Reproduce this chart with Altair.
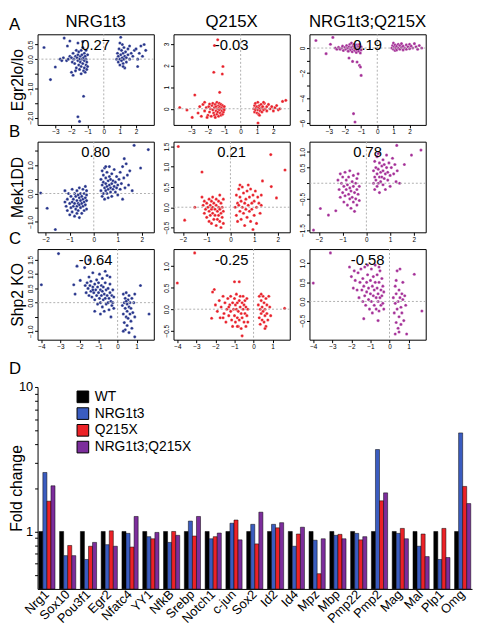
import json
import altair as alt
import pandas as pd

FONT = "Liberation Sans"

# ---------------- scatter data (x = genotype log-ratio, y = mutant log-ratio) ----------------
A1 = [(-3.7,0.4),(-3.0,-0.27),(-3.3,-0.7),(-2.45,0.72),(-2.1,0.62),(-1.25,-1.27),(-1.6,-1.97),(-1.5,-2.13),
      (-2.7,0.0),(-2.6,-0.05),(-2.5,0.05),(-2.3,-0.05),(-2.2,0.0),(-2.1,0.1),(-2.0,0.05),(-1.95,-0.1),(-1.9,0.2),
      (-1.85,0.0),(-1.8,-0.15),(-1.75,0.1),(-1.7,-0.3),(-1.7,0.3),(-1.65,0.05),(-1.6,-0.05),(-1.6,0.15),(-1.55,-0.2),
      (-1.55,0.25),(-1.5,0.0),(-1.5,-0.35),(-1.45,0.1),(-1.45,-0.1),(-1.4,0.3),(-1.4,-0.25),(-1.35,0.0),(-1.35,0.15),
      (-1.3,-0.15),(-1.3,0.4),(-1.25,-0.4),(-1.25,0.05),(-1.2,0.2),(-1.2,-0.05),(-1.2,-0.3),(-1.15,0.1),(-1.15,-0.45),
      (-1.1,0.0),(-1.1,-0.2),(-1.1,0.3),(-1.05,-0.1),(-1.05,-0.35),(-1.0,0.15),(-1.0,-0.25),(-1.9,-0.55),(-2.0,-0.45),
      (-1.6,0.55),(-1.3,0.6),(-2.25,0.45),(-1.75,-0.4),(-1.4,-0.5),
      (0.8,0.0),(0.85,0.2),(0.9,-0.1),(0.9,0.1),(0.95,0.35),(1.0,0.0),(1.0,-0.2),(1.05,0.15),(1.05,0.75),(1.1,-0.05),
      (1.1,0.3),(1.15,0.05),(1.15,0.5),(1.2,-0.15),(1.2,0.2),(1.25,0.0),(1.25,0.4),(1.3,0.1),(1.3,-0.3),(1.35,0.25),
      (1.4,0.05),(1.4,-0.1),(1.5,0.15),(1.5,0.35),(1.6,0.0),(1.6,0.45),(1.7,0.2),(1.8,0.1),(1.9,0.3),(2.0,0.35),
      (2.1,0.0),(2.1,-0.25),(2.2,0.2),(2.3,0.45),(2.4,0.1),(2.5,0.5),(2.6,0.3),(1.0,0.55),(1.2,-0.25)]

A2 = [(-1.4,3.2),(-1.6,2.93),(-1.64,1.69),(-1.08,1.96),(-1.12,1.61),(-1.28,0.76),(-2.8,0.64),(-3.72,0.06),
      (-3.28,-0.06),(-2.96,-0.4),(1.06,-0.66),(2.56,0.34),(2.76,0.39),
      (-2.6,-0.2),(-2.5,0.1),(-2.4,-0.35),(-2.3,0.2),(-2.2,-0.1),(-2.1,0.05),(-2.0,-0.3),(-1.95,0.1),(-1.9,-0.15),
      (-1.85,0.0),(-1.8,-0.35),(-1.75,0.15),(-1.7,-0.05),(-1.7,0.25),(-1.65,-0.2),(-1.6,0.05),(-1.6,-0.3),(-1.55,0.2),
      (-1.5,-0.1),(-1.5,0.1),(-1.45,-0.25),(-1.45,0.3),(-1.4,0.0),(-1.4,-0.15),(-1.35,0.15),(-1.35,-0.35),(-1.3,0.05),
      (-1.3,-0.05),(-1.3,0.25),(-1.25,-0.2),(-1.25,0.1),(-1.2,0.0),(-1.2,-0.3),(-1.2,0.2),(-1.15,-0.1),(-1.15,0.05),
      (-1.1,0.15),(-1.1,-0.25),(-1.05,0.0),(-1.05,-0.15),(-1.0,0.1),(-1.0,-0.05),(-2.2,0.3),(-1.9,0.22),(-2.05,-0.4),
      (-1.55,-0.4),
      (0.8,0.0),(0.85,0.15),(0.85,-0.15),(0.9,0.25),(0.9,-0.05),(0.95,0.05),(1.0,-0.2),(1.0,0.1),(1.05,0.3),
      (1.05,-0.05),(1.1,0.05),(1.1,-0.25),(1.15,0.15),(1.2,0.0),(1.2,-0.1),(1.25,0.2),(1.3,0.05),(1.3,-0.15),
      (1.35,0.1),(1.4,-0.05),(1.45,0.25),(1.5,0.0),(1.6,0.1),(1.6,-0.1),(1.7,0.2),(1.8,0.0),(1.9,0.1),(2.0,-0.1),
      (2.1,0.05),(2.2,0.15),(2.3,-0.05),(2.4,0.0),(1.4,0.3),(1.15,-0.3)]

A3 = [(-3.8,0.6),(-2.9,0.3),(-3.17,-0.45),(-1.75,-0.8),(-1.53,-1.07),(-1.25,-1.12),(-1.1,-1.39),(-1.04,-1.52),
      (-1.0,-2.19),(-1.47,-5.25),(-1.38,-5.92),(-2.75,0.85),
      (-2.6,0.0),(-2.5,-0.1),(-2.4,0.05),(-2.3,-0.1),(-2.2,0.0),(-2.15,0.15),(-2.1,-0.2),(-2.0,0.05),(-1.95,-0.1),
      (-1.9,0.2),(-1.85,0.0),(-1.8,-0.25),(-1.75,0.1),(-1.7,-0.05),(-1.7,0.3),(-1.65,-0.15),(-1.6,0.05),(-1.6,0.4),
      (-1.55,-0.3),(-1.5,0.15),(-1.5,-0.1),(-1.45,0.0),(-1.45,0.3),(-1.4,-0.2),(-1.4,0.1),(-1.35,-0.05),(-1.35,0.2),
      (-1.3,-0.35),(-1.3,0.05),(-1.25,0.25),(-1.25,-0.15),(-1.2,0.0),(-1.2,0.15),(-1.15,-0.25),(-1.15,0.1),
      (-1.1,-0.05),(-1.1,0.3),(-1.05,0.05),(-1.05,-0.4),(-1.0,0.1),(-1.0,-0.15),
      (0.9,0.0),(0.95,0.2),(1.0,-0.1),(1.0,0.4),(1.05,0.1),(1.1,-0.2),(1.1,0.25),(1.15,0.0),(1.2,0.15),(1.2,-0.15),
      (1.3,0.3),(1.3,0.0),(1.4,-0.1),(1.4,0.2),(1.5,0.05),(1.5,0.35),(1.6,-0.15),(1.6,0.15),(1.7,0.0),(1.8,0.25),
      (1.8,-0.1),(1.9,0.1),(2.0,0.3),(2.0,-0.05),(2.1,0.15),(2.2,0.0),(2.3,0.35),(2.4,0.1),(2.5,-0.1),(2.6,0.2),
      (2.75,0.0)]

B1 = [(-2.21,0.02),(-1.94,-0.52),(-1.6,-1.27),(1.68,1.7),(2.27,1.55),(1.95,0.9),(1.6,0.1),(1.27,1.23),
      (-1.2,-0.3),(-1.2,0.1),(-1.15,-0.45),(-1.1,-0.2),(-1.1,-0.6),(-1.05,0.0),(-1.0,-0.35),(-1.0,-0.75),
      (-0.95,-0.1),(-0.95,-0.5),(-0.9,0.15),(-0.9,-0.3),(-0.9,-0.65),(-0.85,-0.2),(-0.85,-0.45),(-0.8,0.0),
      (-0.8,-0.35),(-0.8,-0.8),(-0.75,-0.1),(-0.75,-0.55),(-0.7,0.1),(-0.7,-0.25),(-0.7,-0.45),(-0.7,-0.7),
      (-0.65,-0.05),(-0.65,-0.35),(-0.65,-0.6),(-0.6,0.2),(-0.6,-0.15),(-0.6,-0.4),(-0.6,-0.85),(-0.55,0.0),
      (-0.55,-0.25),(-0.55,-0.5),(-0.5,-0.1),(-0.5,-0.35),(-0.5,-0.7),(-0.45,0.15),(-0.45,-0.2),(-0.45,-0.45),
      (-0.4,0.0),(-0.4,-0.3),(-0.4,-0.6),(-0.35,0.25),(-0.35,-0.15),(-0.35,-0.4),(-0.3,-0.05),(-0.3,-0.25),
      (-0.3,-0.55),(-0.3,0.1),
      (0.3,0.1),(0.3,0.5),(0.35,-0.1),(0.35,0.3),(0.35,0.8),(0.4,0.0),(0.4,0.4),(0.4,0.65),(0.45,0.2),(0.45,-0.2),
      (0.45,0.9),(0.5,0.1),(0.5,0.35),(0.5,0.55),(0.55,0.0),(0.55,0.25),(0.55,0.75),(0.6,0.15),(0.6,0.45),
      (0.6,-0.15),(0.65,0.3),(0.65,0.6),(0.65,0.95),(0.7,0.05),(0.7,0.2),(0.7,0.5),(0.75,0.35),(0.75,0.7),
      (0.75,-0.1),(0.8,0.15),(0.8,0.45),(0.85,0.25),(0.85,0.85),(0.9,0.05),(0.9,0.4),(0.95,0.6),(0.95,0.2),
      (1.0,0.3),(1.0,-0.05),(1.05,0.5),(1.1,0.15),(1.1,0.75),(1.15,0.35),(1.2,0.95),(1.25,0.55),(1.3,0.2),
      (1.35,1.05),(1.4,0.65),(1.5,0.8),(1.45,0.3),(1.2,-0.2),(0.5,0.95)]

B2 = [(-2.2,1.5),(-1.93,-0.32),(-1.2,0.87),(-1.5,0.0),(1.7,1.3),(2.3,0.92),(1.94,0.23),(1.72,0.51),(1.35,0.65),
      (-1.2,0.25),(-1.15,0.05),(-1.1,-0.15),(-1.1,0.15),(-1.05,-0.05),(-1.0,0.1),(-1.0,-0.25),(-0.95,0.0),
      (-0.9,0.2),(-0.9,-0.1),(-0.9,-0.35),(-0.85,0.05),(-0.85,-0.2),(-0.8,0.15),(-0.8,-0.05),(-0.8,-0.4),
      (-0.75,0.0),(-0.75,-0.15),(-0.75,0.25),(-0.7,-0.3),(-0.7,0.1),(-0.65,-0.05),(-0.65,-0.2),(-0.6,0.05),
      (-0.6,0.2),(-0.6,-0.45),(-0.55,-0.1),(-0.55,-0.3),(-0.5,0.15),(-0.5,0.0),(-0.5,-0.2),(-0.45,-0.05),
      (-0.45,-0.35),(-0.45,0.3),(-0.4,0.1),(-0.4,-0.15),(-0.4,-0.5),(-0.35,0.0),(-0.35,-0.25),(-0.3,0.2),
      (-0.3,-0.1),(-0.3,-0.4),
      (0.2,0.0),(0.25,0.3),(0.25,-0.2),(0.3,0.1),(0.3,-0.35),(0.35,0.45),(0.35,0.05),(0.4,-0.1),(0.4,0.25),
      (0.45,-0.3),(0.45,0.15),(0.5,0.5),(0.5,0.0),(0.55,-0.15),(0.55,0.35),(0.6,0.1),(0.6,-0.45),(0.65,0.2),
      (0.65,-0.05),(0.7,0.4),(0.7,-0.25),(0.75,0.05),(0.75,0.55),(0.8,-0.1),(0.8,0.25),(0.85,0.45),(0.85,-0.35),
      (0.9,0.1),(0.9,-0.05),(0.95,0.3),(1.0,-0.2),(1.0,0.15),(1.05,0.4),(1.1,0.0),(1.1,-0.4),(1.15,0.25),
      (1.2,0.1),(1.25,-0.15),(1.3,0.3),(1.3,0.05),(0.95,-0.55),(0.4,0.55)]

B3 = [(-2.23,-1.5),(-1.94,-0.81),(-1.6,-1.02),(-1.29,-0.88),(1.28,1.21),(1.9,0.9),(2.3,1.06),(1.6,0.6),(1.4,0.0),
      (-1.2,0.1),(-1.15,-0.2),(-1.1,0.3),(-1.1,-0.45),(-1.05,0.0),(-1.0,-0.3),(-1.0,0.2),(-0.95,-0.6),(-0.95,-0.1),
      (-0.9,0.35),(-0.9,-0.4),(-0.85,-0.2),(-0.85,0.1),(-0.8,-0.7),(-0.8,-0.05),(-0.75,-0.35),(-0.75,0.2),
      (-0.7,-0.5),(-0.7,-0.15),(-0.7,0.4),(-0.65,-0.25),(-0.65,-0.8),(-0.6,0.05),(-0.6,-0.45),(-0.55,-0.1),
      (-0.55,-0.6),(-0.55,0.25),(-0.5,-0.3),(-0.5,-0.9),(-0.45,0.0),(-0.45,-0.5),(-0.4,0.15),(-0.4,-0.2),
      (-0.4,-0.7),(-0.35,-0.35),(-0.35,0.3),(-0.3,-0.1),(-0.3,-0.55),
      (0.3,0.0),(0.3,0.4),(0.35,-0.2),(0.35,0.2),(0.35,0.7),(0.4,0.1),(0.4,0.5),(0.45,-0.1),(0.45,0.3),(0.45,0.85),
      (0.5,0.0),(0.5,0.45),(0.55,0.2),(0.55,0.65),(0.55,-0.3),(0.6,0.35),(0.6,0.05),(0.65,0.55),(0.65,0.2),
      (0.7,0.75),(0.7,-0.05),(0.7,0.4),(0.75,0.15),(0.75,0.6),(0.8,0.3),(0.8,-0.2),(0.85,0.5),(0.85,0.9),
      (0.9,0.1),(0.9,0.35),(0.95,0.65),(1.0,0.25),(1.0,-0.1),(1.05,0.5),(1.1,0.8),(1.15,0.3),(1.2,0.6),
      (1.25,0.05),(1.3,0.4),(0.5,0.95)]

C1 = [(-4.0,0.63),(-3.1,1.72),(-2.3,0.63),(-2.23,0.3),(-2.13,1.28),(-1.73,1.23),(-1.96,0.78),(1.2,0.6),
      (1.65,-0.4),(0.9,-1.2),(-1.5,1.5),(-1.2,-0.3),(-0.9,-0.4),
      (-1.7,0.6),(-1.65,0.35),(-1.6,0.7),(-1.55,0.5),(-1.5,0.25),(-1.5,0.9),(-1.45,0.6),(-1.4,0.4),(-1.4,0.75),
      (-1.35,0.2),(-1.3,0.55),(-1.3,1.05),(-1.25,0.35),(-1.2,0.65),(-1.2,0.1),(-1.15,0.45),(-1.1,0.8),(-1.1,0.25),
      (-1.05,0.55),(-1.05,-0.05),(-1.0,0.35),(-1.0,0.7),(-0.95,0.15),(-0.95,1.0),(-0.9,0.45),(-0.9,0.0),
      (-0.85,0.6),(-0.85,0.25),(-0.8,-0.15),(-0.8,0.4),(-0.8,0.85),(-0.75,0.1),(-0.75,0.55),(-0.7,0.3),
      (-0.7,-0.3),(-0.65,0.7),(-0.65,0.15),(-0.6,0.45),(-0.6,-0.05),(-0.55,0.25),(-0.55,0.95),(-0.5,0.0),
      (-0.5,0.5),(-0.45,0.15),(-0.45,-0.25),(-0.4,0.35),(-0.4,0.65),(-0.35,0.05),(-0.35,-0.5),(-0.3,0.25),
      (-0.3,-0.1),(-0.25,0.45),(-0.25,0.0),(-0.2,-0.2),(-0.2,0.2),(-1.3,0.45),(-0.65,1.1),(-0.4,0.9),
      (0.25,-0.1),(0.3,0.3),(0.3,-0.4),(0.35,0.0),(0.35,-0.7),(0.4,-0.2),(0.4,0.15),(0.4,-0.95),(0.45,-0.5),
      (0.45,0.35),(0.5,-0.05),(0.5,-0.3),(0.5,-0.8),(0.55,0.1),(0.55,-0.55),(0.6,-0.15),(0.6,0.25),(0.6,-1.05),
      (0.65,-0.4),(0.65,0.0),(0.7,-0.65),(0.7,-0.2),(0.75,0.15),(0.75,-0.9),(0.8,-0.35),(0.85,0.0),(0.9,-0.5),
      (0.9,0.3),(0.3,-1.0),(0.45,0.05)]

C2 = [(-3.09,1.31),(-4.0,0.61),(-2.06,0.46),(-1.0,0.64),(-0.75,0.64),(-2.2,-0.21),(1.63,0.02),(-0.6,-0.62),
      (-2.15,0.4),
      (-2.0,0.1),(-1.9,-0.05),(-1.8,0.2),(-1.75,-0.2),(-1.7,0.05),(-1.6,0.3),(-1.55,-0.1),(-1.5,0.15),(-1.45,-0.3),
      (-1.4,0.0),(-1.35,0.25),(-1.3,-0.15),(-1.25,0.1),(-1.2,-0.05),(-1.2,0.3),(-1.15,-0.25),(-1.1,0.15),
      (-1.1,-0.4),(-1.05,0.0),(-1.0,0.25),(-1.0,-0.15),(-0.95,0.1),(-0.95,-0.3),(-0.9,0.0),(-0.9,0.35),
      (-0.85,-0.2),(-0.85,0.15),(-0.8,-0.05),(-0.8,-0.4),(-0.75,0.2),(-0.75,-0.25),(-0.7,0.05),(-0.7,0.3),
      (-0.65,-0.1),(-0.65,-0.45),(-0.6,0.15),(-0.6,-0.2),(-0.55,0.0),(-0.55,0.3),(-0.5,-0.3),(-0.5,0.1),
      (-0.45,-0.1),(-0.45,0.2),(-0.4,-0.4),(-0.4,0.05),(-0.35,-0.15),(-0.35,0.25),(-0.3,0.0),(-0.3,-0.3),
      (-1.6,-0.2),(-1.3,0.05),(-0.85,-0.4),
      (0.25,0.1),(0.3,-0.2),(0.3,0.3),(0.35,0.0),(0.35,-0.35),(0.4,0.2),(0.4,-0.1),(0.45,0.05),(0.45,-0.25),
      (0.5,0.3),(0.5,-0.05),(0.55,0.15),(0.55,-0.3),(0.6,0.0),(0.6,-0.15),(0.65,0.25),(0.65,-0.4),(0.7,0.1),
      (0.7,-0.1),(0.75,-0.25),(0.8,0.3),(0.85,0.05),(0.9,-0.15),(0.6,-0.45),(0.4,0.35)]

C3 = [(-3.1,1.27),(-4.0,0.48),(1.7,-0.25),(1.3,0.71),(-2.1,0.9),(-0.6,-0.5),(-1.35,-0.45),(0.9,-0.85),(0.3,-0.85),
      (-2.0,0.65),(-1.9,0.35),(-1.85,0.8),(-1.8,0.55),(-1.7,0.3),(-1.65,0.75),(-1.6,0.1),(-1.55,0.5),(-1.5,0.85),
      (-1.45,0.3),(-1.4,0.0),(-1.4,0.6),(-1.35,0.4),(-1.3,0.15),(-1.3,0.9),(-1.25,-0.1),(-1.2,0.5),(-1.2,0.25),
      (-1.15,0.7),(-1.1,0.05),(-1.1,0.35),(-1.05,-0.2),(-1.0,0.55),(-1.0,0.2),(-0.95,0.85),(-0.95,0.0),
      (-0.9,0.4),(-0.9,-0.3),(-0.85,0.15),(-0.85,0.65),(-0.8,-0.1),(-0.8,0.3),(-0.75,0.5),(-0.75,0.95),
      (-0.7,0.1),(-0.7,-0.2),(-0.65,0.35),(-0.65,0.7),(-0.6,0.0),(-0.6,0.2),(-0.55,0.5),(-0.55,-0.25),
      (-0.5,0.1),(-0.5,0.8),(-0.45,0.3),(-0.45,-0.1),(-0.4,0.6),(-0.4,0.15),(-0.35,-0.05),(-0.35,0.4),
      (-0.3,0.25),(-0.3,-0.2),(-1.15,0.95),(-0.55,0.9),
      (0.2,0.1),(0.25,-0.3),(0.3,0.4),(0.3,-0.05),(0.35,-0.55),(0.35,0.2),(0.4,-0.2),(0.4,0.8),(0.45,0.0),
      (0.45,-0.7),(0.5,0.3),(0.5,-0.4),(0.55,0.1),(0.55,0.85),(0.6,-0.15),(0.6,-0.6),(0.65,0.2),(0.65,-0.3),
      (0.7,0.05),(0.7,0.5),(0.75,-0.5),(0.8,0.15),(0.85,-0.1),(0.35,0.55),(0.5,-0.8)]

COLUMNS = ["NRG1t3", "Q215X", "NRG1t3;Q215X"]
ROWS = ["Egr2lo/lo", "Mek1DD", "Shp2 KO"]
CORR = [["0.27", "-0.03", "0.19"], ["0.80", "0.21", "0.78"], ["-0.64", "-0.25", "-0.58"]]
LETTERS = ["A", "B", "C", "D"]

# ---------------- bar data ----------------
GENES = ["Nrg1", "Sox10", "Pou3f1", "Egr2", "Nfatc4", "YY1", "NfkB", "Srebp", "Notch1", "c-jun", "Sox2",
         "Id2", "Id4", "Mpz", "Mbp", "Pmp22", "Pmp2", "Mag", "Mal", "Plp1", "Omg"]
GROUPS = ["WT", "NRG1t3", "Q215X", "NRG1t3;Q215X"]
WT = [1.0] * 21
NRG = [2.56, 0.68, 0.64, 0.81, 0.97, 0.92, 0.84, 1.18, 0.89, 1.14, 1.12, 1.12, 0.79, 0.87, 0.94, 0.97, 3.69,
       0.97, 0.79, 0.64, 4.81]
Q215 = [1.62, 0.80, 0.79, 1.01, 0.78, 0.89, 1.0, 0.93, 0.92, 1.2, 0.82, 1.06, 0.96, 0.51, 0.955, 0.875, 1.63,
        1.05, 0.96, 1.05, 2.05]
DBL = [2.07, 0.68, 0.84, 0.79, 1.27, 0.985, 0.94, 1.27, 0.975, 0.875, 1.36, 1.15, 1.07, 0.89, 0.89, 0.92, 1.85,
       0.89, 0.67, 0.66, 1.56]
BAR_COLORS = ["#000000", "#3a5cc0", "#ec2227", "#7c2d9c"]

PT_COLORS = ["#26348b", "#e8202a", "#a42f97"]

PW, PH = 118, 92
LX = -29
VGAP = 19
BARGAP = 45


def lab_expr(labels, fmt):
    return "indexof(%s, datum.value) >= 0 ? format(datum.value, '%s') : ''" % (json.dumps(labels), fmt)


def label_layer(text, x, y, size, align="left", baseline="top"):
    return alt.Chart(pd.DataFrame({"t": [text]})).mark_text(
        fontSize=size, align=align, baseline=baseline, color="black").encode(
        x=alt.value(x), y=alt.value(y), text="t:N")


def panel(pts, color, xdom, ydom, xt, yt, ylabels, yfmt, corr, title=None, ytitle=None, letters=()):
    df = pd.DataFrame(pts, columns=["x", "y"])
    xaxis = alt.Axis(values=xt, labelExpr=lab_expr(xt, "d"), labelFontSize=6.5, tickSize=3, labelPadding=1,
                     domain=False, grid=False, title=None, labelOverlap=False, labelFlush=False,
                     labelSeparation=0)
    yargs = dict(values=yt, labelExpr=lab_expr(ylabels, yfmt), labelFontSize=6.5, tickSize=3, labelPadding=1,
                 labelAngle=270, labelAlign="center", labelBaseline="bottom", domain=False, grid=False,
                 labelOverlap=False, labelFlush=False, labelSeparation=0)
    if ytitle:
        yargs.update(title=ytitle, titleFontSize=16, titleFontWeight="normal", titleX=-12, titleY=PH / 2)
    else:
        yargs.update(title=None)
    yaxis = alt.Axis(**yargs)
    xs = alt.Scale(domain=xdom, nice=False, zero=False)
    ys = alt.Scale(domain=ydom, nice=False, zero=False)
    pts_layer = alt.Chart(df).mark_circle(size=10, color=color, opacity=1, stroke="white",
                                           strokeWidth=0.3).encode(
        x=alt.X("x:Q", scale=xs, axis=xaxis), y=alt.Y("y:Q", scale=ys, axis=yaxis))
    vline = alt.Chart(pd.DataFrame({"v": [0]})).mark_rule(color="#b0b0b0", strokeDash=[2, 2],
                                                          strokeWidth=1).encode(
        x=alt.X("v:Q", scale=xs, axis=xaxis))
    hline = alt.Chart(pd.DataFrame({"v": [0]})).mark_rule(color="#b0b0b0", strokeDash=[2, 2],
                                                          strokeWidth=1).encode(
        y=alt.Y("v:Q", scale=ys, axis=yaxis))
    txt = label_layer(corr, PW / 2, 11, 15, align="center", baseline="middle")
    layers = [pts_layer, vline, hline, txt]
    for (letter, ly) in letters:
        layers.append(label_layer(letter, LX, ly, 17))
    if title:
        layers.append(label_layer(title, PW / 2, -3, 17, align="center", baseline="bottom"))
    return alt.layer(*layers).properties(width=PW, height=PH,
                                         view=alt.ViewBackground(stroke="black", strokeWidth=1))


xA = [-3, -2, -1, 0, 1, 2]
xB = [-2, -1, 0, 1, 2]
xC = [-4, -3, -2, -1, 0, 1]
HSP = 8

rowA = alt.hconcat(
    panel(A1, PT_COLORS[0], [-4.1, 3.1], [-2.25, 0.85], xA, [-2, -1.5, -1, -0.5, 0, 0.5], [0.5, 0, -1, -2], ".1f",
          CORR[0][0], COLUMNS[0], ROWS[0], [(LETTERS[0], -17), (LETTERS[1], PH - 1)]),
    panel(A2, PT_COLORS[1], [-4.1, 3.0], [-0.75, 3.45], xA, [0, 1, 2, 3], [0, 1, 2, 3], "d",
          CORR[0][1], COLUMNS[1]),
    panel(A3, PT_COLORS[2], [-4.2, 3.0], [-6.15, 1.1], xA, [-6, -5, -4, -3, -2, -1, 0], [0, -2, -4, -6], "d",
          CORR[0][2], COLUMNS[2]),
    spacing=HSP)

rowB = alt.hconcat(
    panel(B1, PT_COLORS[0], [-2.34, 2.5], [-1.37, 1.83], xB, [-1, -0.5, 0, 0.5, 1, 1.5], [1, 0, -1], ".1f",
          CORR[1][0], None, ROWS[1], [(LETTERS[2], PH - 1)]),
    panel(B2, PT_COLORS[1], [-2.4, 2.5], [-0.62, 1.62], xB, [-0.5, 0, 0.5, 1, 1.5], [-0.5, 0, 0.5, 1, 1.5], ".1f",
          CORR[1][1]),
    panel(B3, PT_COLORS[2], [-2.4, 2.5], [-1.57, 1.33], xB, [-1.5, -1, -0.5, 0, 0.5, 1], [1, 0.5, -0.5, -1.5],
          ".1f", CORR[1][2]),
    spacing=HSP)

rowC = alt.hconcat(
    panel(C1, PT_COLORS[0], [-4.2, 1.9], [-1.3, 1.88], xC, [-1, -0.5, 0, 0.5, 1, 1.5], [1.5, 1, 0.5, 0, -1],
          ".1f", CORR[2][0], None, ROWS[2]),
    panel(C2, PT_COLORS[1], [-4.2, 1.9], [-0.71, 1.4], xC, [-0.5, 0, 0.5, 1], [-0.5, 0, 0.5, 1], ".1f",
          CORR[2][1]),
    panel(C3, PT_COLORS[2], [-4.2, 1.9], [-1.0, 1.37], xC, [-0.5, 0, 0.5, 1], [-0.5, 0, 0.5, 1], ".1f",
          CORR[2][2]),
    spacing=HSP)

grid = alt.vconcat(rowA, rowB, rowC, spacing=0)

# ---------------- bar chart ----------------
BW, BH = 441, 205
rows = []
for gi, g in enumerate(GROUPS):
    vals = [WT, NRG, Q215, DBL][gi]
    for gene, v in zip(GENES, vals):
        rows.append({"gene": gene, "group": g, "value": v})
bdf = pd.DataFrame(rows)

# legend sits inside the bar plot; legend coordinates are relative to the top-left plot origin
LEG_Y = 3 * PH + 2 * VGAP + BARGAP + 2

ticks_y = [0.5, 0.6, 0.7, 0.8, 0.9, 1, 2, 3, 4, 5, 6, 7, 8, 9, 10]
bars = alt.Chart(bdf).mark_bar(stroke="black", strokeWidth=0.5).encode(
    x=alt.X("gene:N", sort=GENES, scale=alt.Scale(paddingInner=0.22, paddingOuter=0.06),
            axis=alt.Axis(title=None, labelAngle=315, labelAlign="right", labelBaseline="middle",
                          labelFontSize=13, labelPadding=3, tickSize=0, domainColor="black",
                          labelColor="black")),
    xOffset=alt.XOffset("group:N", sort=GROUPS, scale=alt.Scale(paddingInner=0)),
    y=alt.Y("value:Q", stack=False, scale=alt.Scale(type="log", domain=[0.4, 10], nice=False),
            axis=alt.Axis(values=ticks_y, labelExpr="datum.value == 1 || datum.value == 10 ? datum.value : ''",
                          title="Fold change", titleFontSize=16, titleFontWeight="normal", titleX=-13,
                          titleY=BH / 2, labelFontSize=13, tickSize=3, grid=False, domainColor="black",
                          labelColor="black", labelPadding=2, labelOverlap=False)),
    color=alt.Color("group:N", sort=GROUPS, scale=alt.Scale(domain=GROUPS, range=BAR_COLORS),
                    legend=alt.Legend(title=None, orient="none", legendX=39, legendY=LEG_Y, symbolType="square",
                                      symbolSize=140, symbolStrokeColor="black", symbolStrokeWidth=1,
                                      labelFontSize=14, labelColor="black", rowPadding=1, labelOffset=5)),
)
barchart = alt.layer(bars, label_layer(LETTERS[3], LX, -26, 17)).properties(
    width=BW, height=BH, view=alt.ViewBackground(stroke="transparent"))

chart = alt.vconcat(grid, barchart, spacing=9).properties(padding=0).configure(
    font=FONT).configure_axis(tickColor="black", labelColor="black", domainColor="black")

chart.save("out.html", embed_options={"renderer": "svg", "actions": False})
